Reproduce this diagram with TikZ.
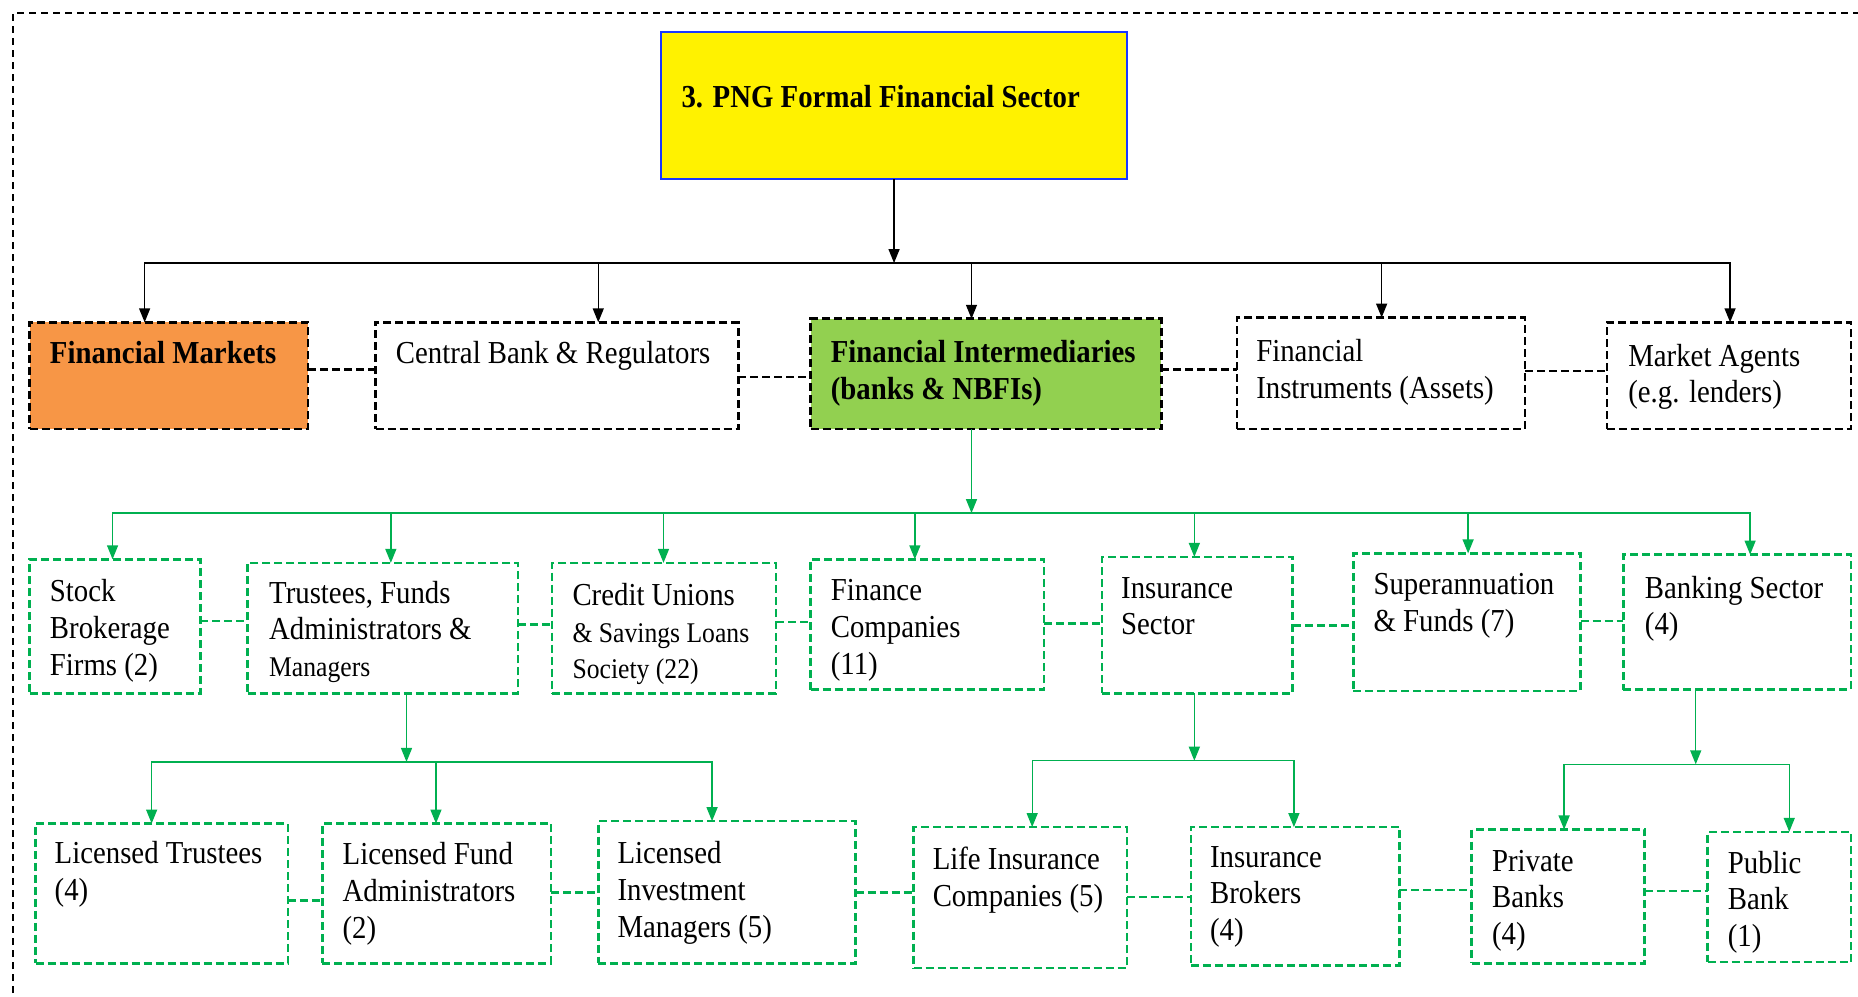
\documentclass[tikz,border=0pt]{standalone}
\usepackage{fontspec}
\setmainfont{Liberation Serif}[FakeStretch=0.9]
\usetikzlibrary{arrows.meta,calc,fit}
\definecolor{wgreen}{RGB}{0,176,80}
\definecolor{orfill}{RGB}{247,150,70}
\definecolor{grfill}{RGB}{146,208,80}
\definecolor{tblue}{RGB}{25,55,255}
\newcommand\smf{\fontsize{28.5}{34}\selectfont}
\begin{document}
\begin{tikzpicture}[x=1.18495pt,y=-1.18495pt,
  bbox/.style={draw=black,line width=2.6pt,dash pattern=on 8pt off 4pt,inner sep=0pt,outer sep=0pt},
  gbox/.style={bbox,draw=wgreen},
  txt/.style={anchor=north west,inner sep=0pt,align=left,font=\fontsize{32}{36.7}\selectfont},
  btxt/.style={txt,font=\bfseries\fontsize{32}{36.7}\selectfont},
  arr/.style={line width=1.4pt,-{Triangle[length=14pt,width=11pt]}},
  garr/.style={arr,wgreen},
  link/.style={line width=2.6pt,dash pattern=on 8pt off 4pt},
  glink/.style={link,wgreen}]
\useasboundingbox (0,0) rectangle (1568,841);
% outer dashed frame
\draw[line width=1.5pt,dash pattern=on 7pt off 5pt] (11,838) -- (11,11) -- (1568,11);

% top
\node[fit={(558,27)(951,151)},draw=tblue,line width=2.5pt,fill=yellow,inner sep=0pt,outer sep=0pt] (top) {};
\node[btxt] (top-t) at (575,72) {3. PNG Formal Financial Sector};

% level 1
\node[bbox,fill=orfill,fit={(25,272)(260,362)}] (fm) {};
\node[bbox,fit={(317,272)(623,362)}] (cb) {};
\node[bbox,fill=grfill,fit={(684,269)(980,362)}] (fi) {};
\node[bbox,fit={(1044,268)(1287,362)}] (fin) {};
\node[bbox,fit={(1356,272)(1562,362)}] (ma) {};
\node[btxt] (fm-t) at (42,288) {Financial Markets};
\node[txt] (cb-t) at (334,288) {Central Bank \& Regulators};
\node[btxt] (fi-t) at (701,287) {Financial Intermediaries\\(banks \& NBFIs)};
\node[txt] (fin-t) at (1060,286) {Financial\\Instruments (Assets)};
\node[txt] (ma-t) at (1374,290) {Market Agents\\(e.g. lenders)};

% level 2
\node[gbox,fit={(25,472)(169,585)}] (sb) {};
\node[gbox,fit={(209,475)(437,585)}] (tr) {};
\node[gbox,fit={(466,475)(655,585)}] (cu) {};
\node[gbox,fit={(684,472)(881,582)}] (fc) {};
\node[gbox,fit={(930,470)(1091,585)}] (is) {};
\node[gbox,fit={(1142,467)(1334,583)}] (su) {};
\node[gbox,fit={(1370,468)(1562,582)}] (bs) {};
\node[txt] (sb-t) at (42,489) {Stock\\Brokerage\\Firms (2)};
\node[txt] (tr-t) at (227,490) {Trustees, Funds\\Administrators \&\\\smf Managers};
\node[txt] (cu-t) at (483,492) {Credit Unions\\\smf \& Savings Loans\\\smf Society (22)};
\node[txt] (fc-t) at (701,489) {Finance\\Companies\\(11)};
\node[txt] (is-t) at (946,487) {Insurance\\Sector};
\node[txt] (su-t) at (1159,484) {Superannuation\\\& Funds (7)};
\node[txt] (bs-t) at (1388,486) {Banking Sector\\(4)};

% level 3
\node[gbox,fit={(30,695)(243,813)}] (lt) {};
\node[gbox,fit={(272,695)(465,813)}] (lfa) {};
\node[gbox,fit={(505,693)(722,813)}] (lim) {};
\node[gbox,fit={(771,698)(951,817)}] (li) {};
\node[gbox,fit={(1005,698)(1181,815)}] (ib) {};
\node[gbox,fit={(1242,700)(1388,813)}] (pb) {};
\node[gbox,fit={(1441,702)(1562,812)}] (pub) {};
\node[txt] (lt-t) at (46,710) {Licensed Trustees\\(4)};
\node[txt] (lfa-t) at (289,711) {Licensed Fund\\Administrators\\(2)};
\node[txt] (lim-t) at (521,710) {Licensed\\Investment\\Managers (5)};
\node[txt] (li-t) at (787,715) {Life Insurance\\Companies (5)};
\node[txt] (ib-t) at (1021,714) {Insurance\\Brokers\\(4)};
\node[txt] (pb-t) at (1259,717) {Private\\Banks\\(4)};
\node[txt] (pub-t) at (1458,718) {Public\\Bank\\(1)};

% dashed links
\draw[link] (fm.east |- 0,312) -- (cb.west |- 0,312);
\draw[link] (cb.east |- 0,318) -- (fi.west |- 0,318);
\draw[link] (fi.east |- 0,312) -- (fin.west |- 0,312);
\draw[link] (fin.east |- 0,313) -- (ma.west |- 0,313);
\draw[glink] (sb.east |- 0,524) -- (tr.west |- 0,524);
\draw[glink] (tr.east |- 0,527) -- (cu.west |- 0,527);
\draw[glink] (cu.east |- 0,525) -- (fc.west |- 0,525);
\draw[glink] (fc.east |- 0,526) -- (is.west |- 0,526);
\draw[glink] (is.east |- 0,528) -- (su.west |- 0,528);
\draw[glink] (su.east |- 0,524) -- (bs.west |- 0,524);
\draw[glink] (lt.east |- 0,760) -- (lfa.west |- 0,760);
\draw[glink] (lfa.east |- 0,753) -- (lim.west |- 0,753);
\draw[glink] (lim.east |- 0,753) -- (li.west |- 0,753);
\draw[glink] (li.east |- 0,757) -- (ib.west |- 0,757);
\draw[glink] (ib.east |- 0,751) -- (pb.west |- 0,751);
\draw[glink] (pb.east |- 0,752) -- (pub.west |- 0,752);

% black tree
\coordinate (b1) at (top.south |- 0,222);
\draw[arr] (top.south) -- (b1);
\draw[arr] (b1) -| ($(fm.north west)!0.413!(fm.north east)$);
\draw[arr] (b1) -| ($(cb.north west)!0.614!(cb.north east)$);
\draw[arr] (b1) -| ($(fi.north west)!0.459!(fi.north east)$);
\draw[arr] (b1) -| ($(fin.north west)!0.502!(fin.north east)$);
\draw[arr] (b1) -| ($(ma.north west)!0.505!(ma.north east)$);

% green tree level 2
\coordinate (fis) at ($(fi.south west)!0.459!(fi.south east)$);
\coordinate (b2) at (fis |- 0,433);
\draw[garr] (fis) -- (b2);
\draw[garr] (b2) -| ($(sb.north west)!0.486!(sb.north east)$);
\draw[garr] (b2) -| ($(tr.north west)!0.53!(tr.north east)$);
\draw[garr] (b2) -| ($(cu.north west)!0.497!(cu.north east)$);
\draw[garr] (b2) -| ($(fc.north west)!0.447!(fc.north east)$);
\draw[garr] (b2) -| ($(is.north west)!0.484!(is.north east)$);
\draw[garr] (b2) -| ($(su.north west)!0.505!(su.north east)$);
\draw[garr] (b2) -| ($(bs.north west)!0.557!(bs.north east)$);

% green tree level 3
\coordinate (trs) at ($(tr.south west)!0.588!(tr.south east)$);
\coordinate (b3) at (trs |- 0,643);
\draw[garr] (trs) -- (b3);
\draw[garr] (b3) -| ($(lt.north west)!0.46!(lt.north east)$);
\draw[garr] (b3) -| ($(lfa.north west)!0.497!(lfa.north east)$);
\draw[garr] (b3) -| ($(lim.north west)!0.442!(lim.north east)$);

\coordinate (iss) at ($(is.south west)!0.484!(is.south east)$);
\coordinate (b4) at (iss |- 0,642);
\draw[garr] (iss) -- (b4);
\draw[garr] (b4) -| ($(li.north west)!0.556!(li.north east)$);
\draw[garr] (b4) -| ($(ib.north west)!0.494!(ib.north east)$);

\coordinate (bss) at ($(bs.south west)!0.318!(bs.south east)$);
\coordinate (b5) at (bss |- 0,645);
\draw[garr] (bss) -- (b5);
\draw[garr] (b5) -| ($(pb.north west)!0.534!(pb.north east)$);
\draw[garr] (b5) -| ($(pub.north west)!0.57!(pub.north east)$);
\end{tikzpicture}
\end{document}
